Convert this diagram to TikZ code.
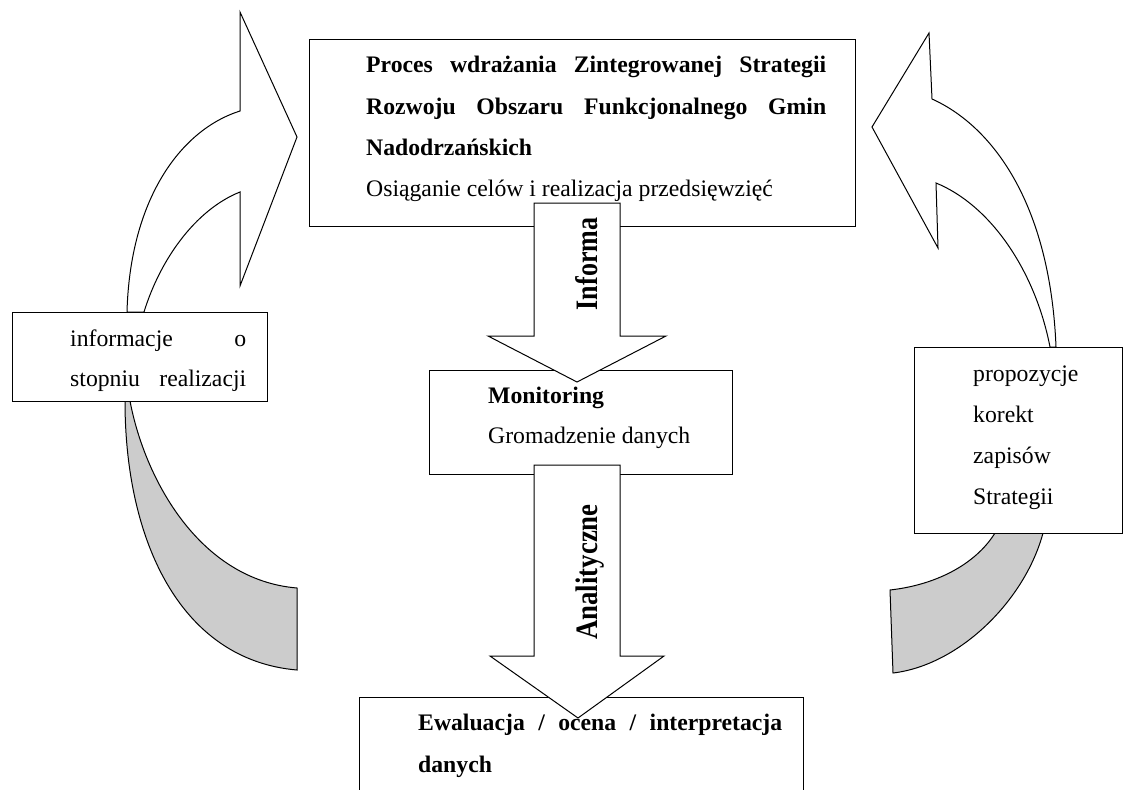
\documentclass[tikz,border=0pt]{standalone}
\usepackage{fontspec}
\usepackage{graphicx}
\setmainfont{Liberation Serif}
\definecolor{shadegray}{RGB}{204,204,204}
\begin{document}
\begin{tikzpicture}[x=1pt,y=-1pt,
  box/.style={draw, line width=1.1pt, fill=white, inner sep=0pt, anchor=north west},
  shp/.style={draw, line width=1pt, line join=miter},
  txt/.style={anchor=base west, inner sep=0pt, font=\fontsize{23.7}{28}\selectfont},
  btxt/.style={anchor=base west, inner sep=0pt, font=\fontsize{23.7}{28}\selectfont\bfseries},
  vtxt/.style={rotate=90, anchor=base, inner sep=0pt, font=\fontsize{26}{30}\selectfont\bfseries}]
\useasboundingbox (0,0) rectangle (1123,789);
\clip (0,0) rectangle (1123,789);

% left curved arrow (white) and its grey tail
\draw[shp, fill=white] (127,312) .. controls (130,200) and (180,130) .. (240,111)
  -- (240,12) -- (297,137) -- (240,286) -- (240,192)
  .. controls (195,210) and (160,260) .. (144,312) -- cycle;
\draw[shp, fill=shadegray] (125,401) .. controls (125,540) and (180,660) .. (297,670)
  -- (297,588) .. controls (200,580) and (145,480) .. (130,401) -- cycle;

% right curved arrow (white) and its grey tail
\draw[shp, fill=white] (1056,347) .. controls (1050,200) and (990,125) .. (932,99)
  -- (929,33) -- (872,127) -- (938,248) -- (936,183)
  .. controls (990,205) and (1035,270) .. (1050,347) -- cycle;
\draw[shp, fill=shadegray] (1043,533) .. controls (1025,600) and (960,665) .. (893,673)
  -- (890,590) .. controls (935,585) and (975,565) .. (995,533) -- cycle;

% boxes
\node[box, minimum width=546pt, minimum height=187pt] (topbox) at (309,39) {};
\node[box, minimum width=255pt, minimum height=89pt] (leftbox) at (12,312) {};
\node[box, minimum width=303pt, minimum height=104pt] (monbox) at (429,370) {};
\node[box, minimum width=208pt, minimum height=186pt] (rightbox) at (914,347) {};
\node[box, minimum width=444pt, minimum height=120pt] (evalbox) at (359,697) {};

% down arrows
\draw[shp, fill=white] (534,203) -- (620,203) -- (620,336) -- (666,336) -- (577,382)
  -- (488,336) -- (534,336) -- cycle;
\draw[shp, fill=white] (534,465) -- (620,465) -- (620,656) -- (664,656) -- (578,718)
  -- (490,656) -- (534,656) -- cycle;

% texts
\node[btxt] (t1) at (366,73) {\makebox[460pt][s]{Proces wdrażania Zintegrowanej Strategii}};
\node[btxt] (t2) at (366,114) {\makebox[460pt][s]{Rozwoju Obszaru Funkcjonalnego Gmin}};
\node[btxt] (t3) at (366,155) {Nadodrzańskich};
\node[txt] (t4) at (366,196) {Osiąganie celów i realizacja przedsięwzięć};

\node[btxt] (m1) at (488,403) {Monitoring};
\node[txt] (m2) at (488,443) {Gromadzenie danych};

\node[txt] (l1) at (70,346) {\makebox[176pt][s]{informacje o}};
\node[txt] (l2) at (70,386) {\makebox[176pt][s]{stopniu realizacji}};

\node[txt] (r1) at (973,381) {propozycje};
\node[txt] (r2) at (973,422) {korekt};
\node[txt] (r3) at (973,463) {zapisów};
\node[txt] (r4) at (973,504) {Strategii};

\node[btxt] (e1) at (418,730) {\makebox[364pt][s]{Ewaluacja / ocena / interpretacja}};
\node[btxt] (e2) at (418,772) {danych};

\node[vtxt] (v1) at (597,264) {\scalebox{1}[1.2]{Informa}};
\node[vtxt] (v2) at (597,572) {\scalebox{1.03}[1.2]{Analityczne}};
\end{tikzpicture}
\end{document}
